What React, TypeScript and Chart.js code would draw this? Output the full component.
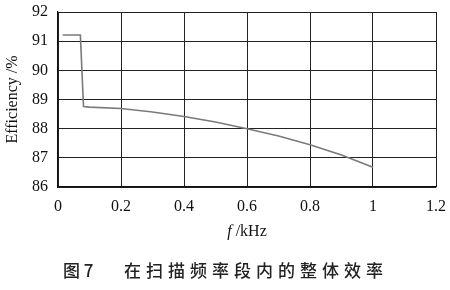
import React, { useEffect, useRef } from "react";
import { Chart, registerables } from "chart.js";

Chart.register(...registerables);

const freq = [0.015, 0.071, 0.081, 0.1, 0.2, 0.3, 0.4, 0.5, 0.6, 0.7, 0.8, 0.9, 1.0];
const efficiency = [91.21, 91.21, 88.76, 88.74, 88.69, 88.57, 88.42, 88.23, 88.0, 87.75, 87.45, 87.1, 86.68];
const yTitle = "Efficiency /%";
const xTitleItalic = "f";
const xTitleRest = " /kHz";
const captionFig = "图 7";
const captionText = "在扫描频率段内的整体效率";

const serif = "Liberation Serif, DejaVu Serif, serif";

const textPlugin = {
  id: "texts",
  afterDraw(chart: any) {
    const ctx = chart.ctx;
    const a = chart.chartArea;
    ctx.save();
    ctx.fillStyle = "#111";
    const cx = (a.left + a.right) / 2;
    ctx.textBaseline = "middle";
    ctx.font = `italic 16px "Liberation Serif", serif`;
    const w1 = ctx.measureText(xTitleItalic).width;
    ctx.font = `16px "Liberation Serif", serif`;
    const w2 = ctx.measureText(xTitleRest).width;
    const sx = cx - (w1 + w2) / 2;
    ctx.textAlign = "left";
    ctx.font = `italic 16px "Liberation Serif", serif`;
    ctx.fillText(xTitleItalic, sx, a.bottom + 45);
    ctx.font = `16px "Liberation Serif", serif`;
    ctx.fillText(xTitleRest, sx + w1, a.bottom + 45);
    ctx.font = `500 17px "Noto Sans CJK SC", sans-serif`;
    ctx.fillStyle = "#222";
    ctx.fillText(captionFig, 63, a.bottom + 84);
    (ctx as any).letterSpacing = "5px";
    ctx.fillText(captionText, 124, a.bottom + 84);
    ctx.restore();
  },
};

export default function App() {
  const ref = useRef<HTMLCanvasElement>(null);
  useEffect(() => {
    document.body.style.margin = "0";
    const chart = new Chart(ref.current!, {
      type: "line",
      data: {
        datasets: [
          {
            data: freq.map((f, i) => ({ x: f, y: efficiency[i] })),
            borderColor: "#7a7a7a",
            borderWidth: 1.6,
            pointRadius: 0,
            tension: 0,
            fill: false,
          },
        ],
      },
      options: {
        animation: false,
        responsive: false,
        layout: { padding: { top: 12, right: 14, left: 0, bottom: 0 } },
        plugins: { legend: { display: false }, tooltip: { enabled: false } },
        scales: {
          x: {
            type: "linear",
            min: 0,
            max: 1.2,
            border: { color: "#111", width: 1.2 },
            grid: { color: "#222", lineWidth: 1, drawTicks: false },
            ticks: {
              stepSize: 0.2,
              padding: 10,
              color: "#111",
              font: { family: serif, size: 16 },
              callback: (v: any) => String(Math.round(Number(v) * 10) / 10),
            },
            afterFit: (s: any) => {
              s.height = 103;
              s.paddingLeft = 0;
              s.paddingRight = 0;
            },
          },
          y: {
            min: 86,
            max: 92,
            border: { color: "#111", width: 1.2 },
            grid: { color: "#222", lineWidth: 1, drawTicks: false },
            ticks: {
              stepSize: 1,
              padding: 10,
              color: "#111",
              font: { family: serif, size: 16 },
            },
            title: {
              display: true,
              text: yTitle,
              color: "#111",
              font: { family: serif, size: 16 },
              padding: { top: 3, bottom: 0 },
            },
            afterFit: (s: any) => {
              s.width = 58;
              s.paddingTop = 0;
              s.paddingBottom = 0;
            },
          },
        },
      },
      plugins: [textPlugin],
    });
    return () => chart.destroy();
  }, []);
  return (
    <div style={{ width: 450, height: 290 }}>
      <canvas ref={ref} width={450} height={290} />
    </div>
  );
}
